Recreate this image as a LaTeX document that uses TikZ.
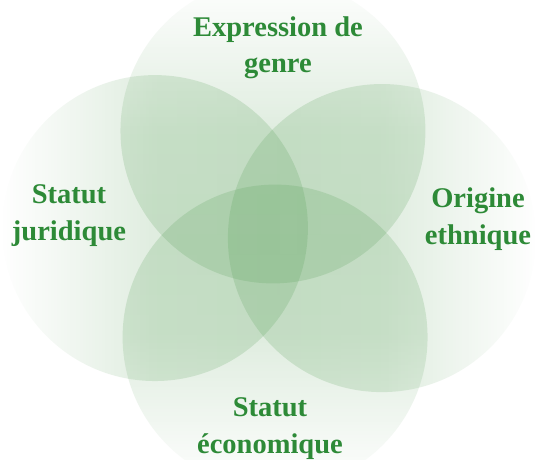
\documentclass[tikz,border=0pt]{standalone}
\usepackage{fontspec}
\setmainfont{Liberation Serif}
\usetikzlibrary{fadings}
\definecolor{venngreen}{RGB}{92,162,92}
\definecolor{labelgreen}{RGB}{45,138,55}
\tikzfading[name=vennfade, left color=transparent!100, right color=transparent!78, middle color=transparent!81]
\tikzset{
  venn/.style={fill=venngreen, path fading=vennfade},
  lbl/.style={font=\fontsize{28.5}{36.5}\selectfont\bfseries, text=labelgreen, align=center, inner sep=0pt, anchor=base}
}
\begin{document}
\begin{tikzpicture}[x=1pt,y=-1pt]
\useasboundingbox (0,0) rectangle (535,460);
\clip (0,0) rectangle (535,460);
\fill[white] (0,0) rectangle (535,460);
\fill[venn, fading angle=-90] (274,132) circle [radius=153pt];
\fill[venn, fading angle=0] (155,228) circle [radius=153pt];
\fill[venn, fading angle=180] (382,238) circle [radius=154pt];
\fill[venn, fading angle=90] (274,336) circle [radius=153pt];
\node[lbl] (genre) at (278,73) {Expression de\\genre};
\node[lbl] (juridique) at (69,240) {Statut\\juridique};
\node[lbl] (ethnique) at (478,244) {Origine\\ethnique};
\node[lbl] (economique) at (270,453) {Statut\\économique};
\end{tikzpicture}
\end{document}
